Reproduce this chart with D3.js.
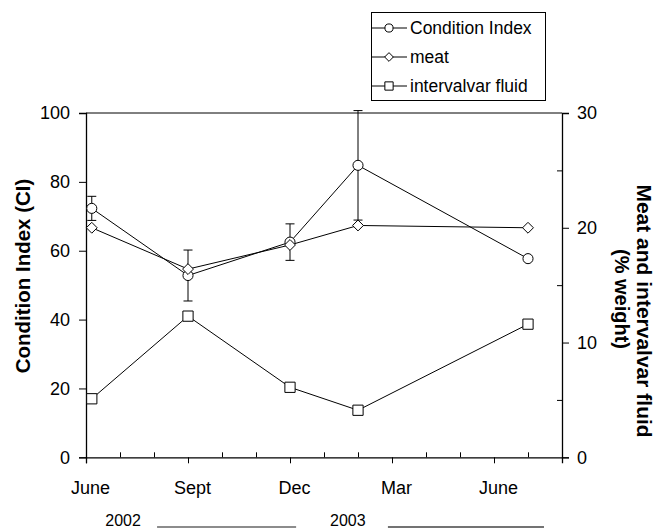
<!DOCTYPE html>
<html>
<head>
<meta charset="utf-8">
<script src="https://cdn.jsdelivr.net/npm/d3@7"></script>
<style>
  body { margin: 0; background: #fff; }
  svg text { font-family: "Liberation Sans", Arial, sans-serif; fill: #000; }
</style>
</head>
<body>
<div id="chart"></div>
<script>
// sampling dates, in months after June 2002
const months = [0.17, 3, 6, 8, 13];
const ciValues = [72.3, 52.8, 62.5, 84.8, 57.7];
const ciErrors = [3.5, 7.4, 5.3, 15.9, 0];
const meatValues = [20.0, 16.4, 18.5, 20.2, 20.0];
const fluidValues = [5.1, 12.3, 6.1, 4.1, 11.6];

const monthTicks = [0, 3, 6, 9, 12];
const monthLabels = ["June", "Sept", "Dec", "Mar", "June"];
const leftTicks = [0, 20, 40, 60, 80, 100];
const rightTicks = [0, 10, 20, 30];
const rightMinor = [5, 15, 25];
const seriesNames = ["Condition Index", "meat", "intervalvar fluid"];

let width = 656,
  height = 528;

let svg = d3.select("#chart")
  .append("svg")
  .attr("width", width)
  .attr("height", height);

let x = d3.scaleLinear().domain([0, 14]).range([86, 562]);
let yL = d3.scaleLinear().domain([0, 100]).range([457.3, 113]);
let yR = d3.scaleLinear().domain([0, 30]).range([457.3, 113]);

// frame top line
svg.append("line")
  .attr("x1", x(0)).attr("x2", x(14))
  .attr("y1", yL(100)).attr("y2", yL(100))
  .attr("stroke", "#000").attr("stroke-width", 1);

// x axis: major ticks outside with labels, minor ticks inside
let xAxis = svg.append("g")
  .attr("transform", `translate(0,${yL(0)})`)
  .call(d3.axisBottom(x).tickValues(monthTicks).tickSize(6).tickPadding(18)
    .tickFormat((d, i) => monthLabels[i]));
xAxis.selectAll("text").attr("font-size", 18).attr("dx", 4);

svg.append("g")
  .attr("transform", `translate(0,${yL(0)})`)
  .call(d3.axisBottom(x).tickValues(d3.range(1, 14).filter(m => m % 3 != 0))
    .tickSize(-5).tickFormat(""))
  .select(".domain").remove();

// left axis
let leftAxis = svg.append("g")
  .attr("transform", `translate(${x(0)},0)`)
  .call(d3.axisLeft(yL).tickValues(leftTicks).tickSize(7).tickPadding(9));
leftAxis.selectAll("text").attr("font-size", 18);

// right axis
let rightAxis = svg.append("g")
  .attr("transform", `translate(${x(14)},0)`)
  .call(d3.axisRight(yR).tickValues(rightTicks).tickSize(7).tickPadding(8));
rightAxis.selectAll("text").attr("font-size", 18);

svg.append("g")
  .attr("transform", `translate(${x(14)},0)`)
  .call(d3.axisRight(yR).tickValues(rightMinor).tickSize(-5).tickFormat(""))
  .select(".domain").remove();

svg.selectAll(".domain").attr("stroke-width", 1.3);

// axis titles
svg.append("text")
  .attr("transform", `translate(30,276) rotate(-90)`)
  .attr("text-anchor", "middle")
  .attr("font-size", 20.5)
  .attr("font-weight", "bold")
  .text("Condition Index (CI)");

let rt = svg.append("g")
  .attr("transform", `translate(637,311) rotate(90)`);
rt.append("text")
  .attr("text-anchor", "middle")
  .attr("font-size", 21)
  .attr("font-weight", "bold")
  .text("Meat and intervalvar fluid");
rt.append("text")
  .attr("x", -12)
  .attr("y", 22)
  .attr("text-anchor", "middle")
  .attr("font-size", 20)
  .attr("font-weight", "bold")
  .text("(% weight)");

// year annotations under the axis
svg.append("text").attr("x", x(1.09)).attr("y", 526)
  .attr("text-anchor", "middle").attr("font-size", 16).text("2002");
svg.append("line").attr("x1", x(2.09)).attr("x2", x(6.18))
  .attr("y1", 527).attr("y2", 527).attr("stroke", "#666").attr("stroke-width", 1.5);
svg.append("text").attr("x", x(7.7)).attr("y", 526)
  .attr("text-anchor", "middle").attr("font-size", 16).text("2003");
svg.append("line").attr("x1", x(8.88)).attr("x2", x(13.47))
  .attr("y1", 527).attr("y2", 527).attr("stroke", "#444").attr("stroke-width", 1.5);

// data
let ci = months.map((m, i) => ({ m: m, v: ciValues[i], e: ciErrors[i] }));
let meat = months.map((m, i) => ({ m: m, v: meatValues[i] }));
let fluid = months.map((m, i) => ({ m: m, v: fluidValues[i] }));

let line = (ys) => d3.line().x(d => x(d.m)).y(d => ys(d.v));

let plot = svg.append("g");

// error bars
let eb = plot.selectAll(".err")
  .data(ci.filter(d => d.e > 0))
  .join("g")
  .attr("class", "err")
  .attr("stroke", "#000")
  .attr("stroke-width", 1);
eb.append("line")
  .attr("x1", d => x(d.m)).attr("x2", d => x(d.m))
  .attr("y1", d => yL(d.v - d.e)).attr("y2", d => yL(d.v + d.e));
eb.append("line")
  .attr("x1", d => x(d.m) - 4.5).attr("x2", d => x(d.m) + 4.5)
  .attr("y1", d => yL(d.v - d.e)).attr("y2", d => yL(d.v - d.e));
eb.append("line")
  .attr("x1", d => x(d.m) - 4.5).attr("x2", d => x(d.m) + 4.5)
  .attr("y1", d => yL(d.v + d.e)).attr("y2", d => yL(d.v + d.e));

[[ci, yL], [meat, yR], [fluid, yR]].forEach(([data, ys]) => {
  plot.append("path")
    .datum(data)
    .attr("fill", "none")
    .attr("stroke", "#000")
    .attr("stroke-width", 1)
    .attr("d", line(ys));
});

let symbols = [d3.symbolCircle, d3.symbolDiamond2, d3.symbolSquare];
let sizes = [80, 75, 105];

function marker(sel, k, scale) {
  sel.attr("d", d3.symbol().type(symbols[k]).size(sizes[k] * scale))
    .attr("fill", "#fff")
    .attr("stroke", "#000")
    .attr("stroke-width", 1);
}

[[ci, yL], [meat, yR], [fluid, yR]].forEach(([data, ys], k) => {
  plot.selectAll(".mk" + k)
    .data(data)
    .join("path")
    .attr("class", "mk" + k)
    .attr("transform", d => `translate(${x(d.m)},${ys(d.v)})`)
    .call(marker, k, 1);
});

// legend
let legend = svg.append("g");
legend.append("rect")
  .attr("x", 371.5).attr("y", 12.5)
  .attr("width", 174).attr("height", 88)
  .attr("fill", "#fff").attr("stroke", "#000").attr("stroke-width", 1);

let item = legend.selectAll(".item")
  .data(seriesNames)
  .join("g")
  .attr("class", "item")
  .attr("transform", (d, i) => `translate(372,${28 + i * 29})`);
item.append("line")
  .attr("x1", 0).attr("x2", 35)
  .attr("stroke", "#000").attr("stroke-width", 1);
item.append("path")
  .attr("transform", "translate(17,0)")
  .each(function (d, i) { d3.select(this).call(marker, i, 0.65); });
item.append("text")
  .attr("x", 38).attr("y", 6)
  .attr("font-size", 17.5)
  .text(d => d);
</script>
</body>
</html>
